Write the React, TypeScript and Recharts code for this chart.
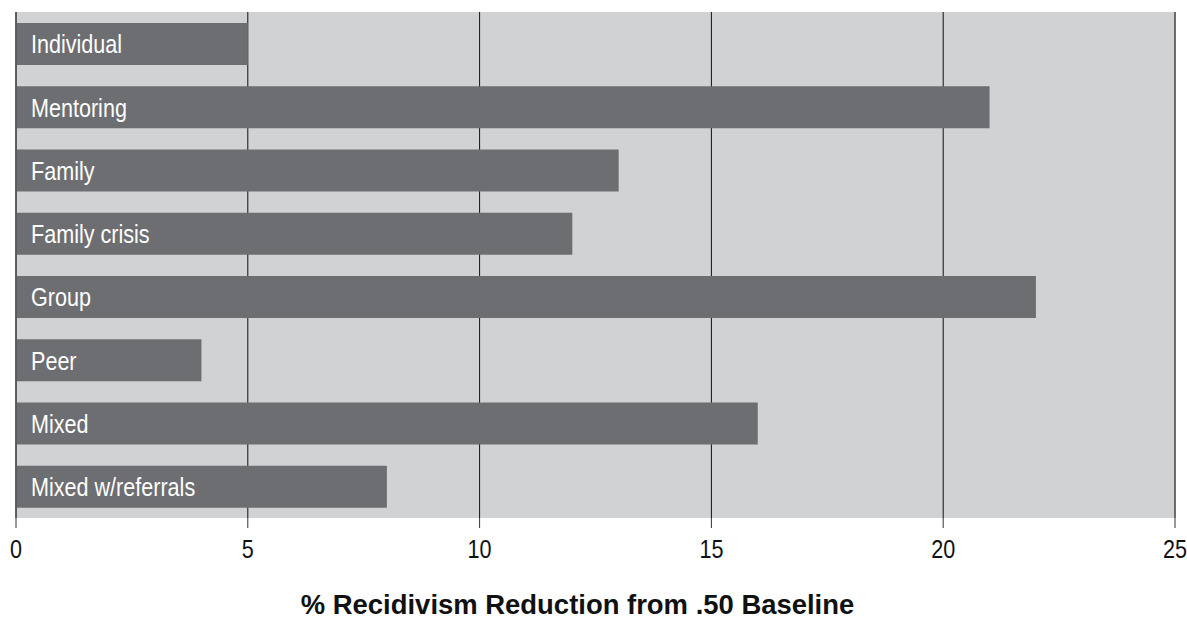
import { BarChart, Bar, XAxis, YAxis, CartesianGrid, LabelList, Label, ReferenceLine } from 'recharts';

const programs = ['Individual', 'Mentoring', 'Family', 'Family crisis', 'Group', 'Peer', 'Mixed', 'Mixed w/referrals'];
const reductions = [5, 21, 13, 12, 22, 4, 16, 8];
const xTicks = [0, 5, 10, 15, 20, 25];

const data = programs.map((name, i) => ({ name, value: reductions[i] }));

// no condensed font installed, so squeeze Liberation Sans horizontally
const FONT = '"Liberation Sans", Arial, sans-serif';
const SQUEEZE = 0.83;

const AxisTick = (props: any) => {
  const { x, y, payload } = props;
  return (
    <g transform={`translate(${x},${y})`}>
      <text transform={`scale(${SQUEEZE},1)`} textAnchor="middle" dy="0.71em" fill="#111" fontSize={26} fontFamily={FONT}>
        {payload.value}
      </text>
    </g>
  );
};

const BarName = (props: any) => {
  const { x, y, height, value } = props;
  return (
    <g transform={`translate(${Number(x) + 15},${Number(y) + Number(height) / 2})`}>
      <text transform={`scale(${SQUEEZE},1)`} dy="0.36em" fill="#fff" fontSize={26} fontFamily={FONT}>
        {value}
      </text>
    </g>
  );
};

const AxisTitle = (props: any) => {
  const vb = props.viewBox || {};
  const cx = vb.x + vb.width / 2 - 18;
  return (
    <g transform={`translate(${cx},614)`}>
      <text transform="scale(0.98,1)" textAnchor="middle" fill="#111" fontSize={28} fontWeight="bold" fontFamily={FONT}>
        % Recidivism Reduction from .50 Baseline
      </text>
    </g>
  );
};

const App = () => {
  return (
    <div style={{ position: 'absolute', left: 0, top: 0, width: 1187, height: 620, background: '#fff' }}>
      <BarChart
        width={1187}
        height={620}
        data={data}
        layout="vertical"
        margin={{ top: 12, right: 12, bottom: 0, left: 16 }}
        barSize={42}
      >
        <CartesianGrid horizontal={false} fill="#d1d2d4" stroke="#111" strokeWidth={1} fillOpacity={1} />
        <XAxis
          type="number"
          domain={[0, 25]}
          ticks={xTicks}
          height={102}
          axisLine={false}
          tickSize={10}
          tickMargin={12}
          tickLine={{ stroke: '#333' }}
          tick={<AxisTick />}
        >
          <Label content={<AxisTitle />} />
        </XAxis>
        <YAxis type="category" dataKey="name" hide />
        <ReferenceLine x={0} stroke="#555" strokeWidth={1.5} />
        <ReferenceLine x={25} stroke="#666" strokeWidth={1.5} />
        <Bar dataKey="value" fill="#6d6e71" isAnimationActive={false}>
          <LabelList dataKey="name" content={<BarName />} />
        </Bar>
      </BarChart>
    </div>
  );
};

export default App;
